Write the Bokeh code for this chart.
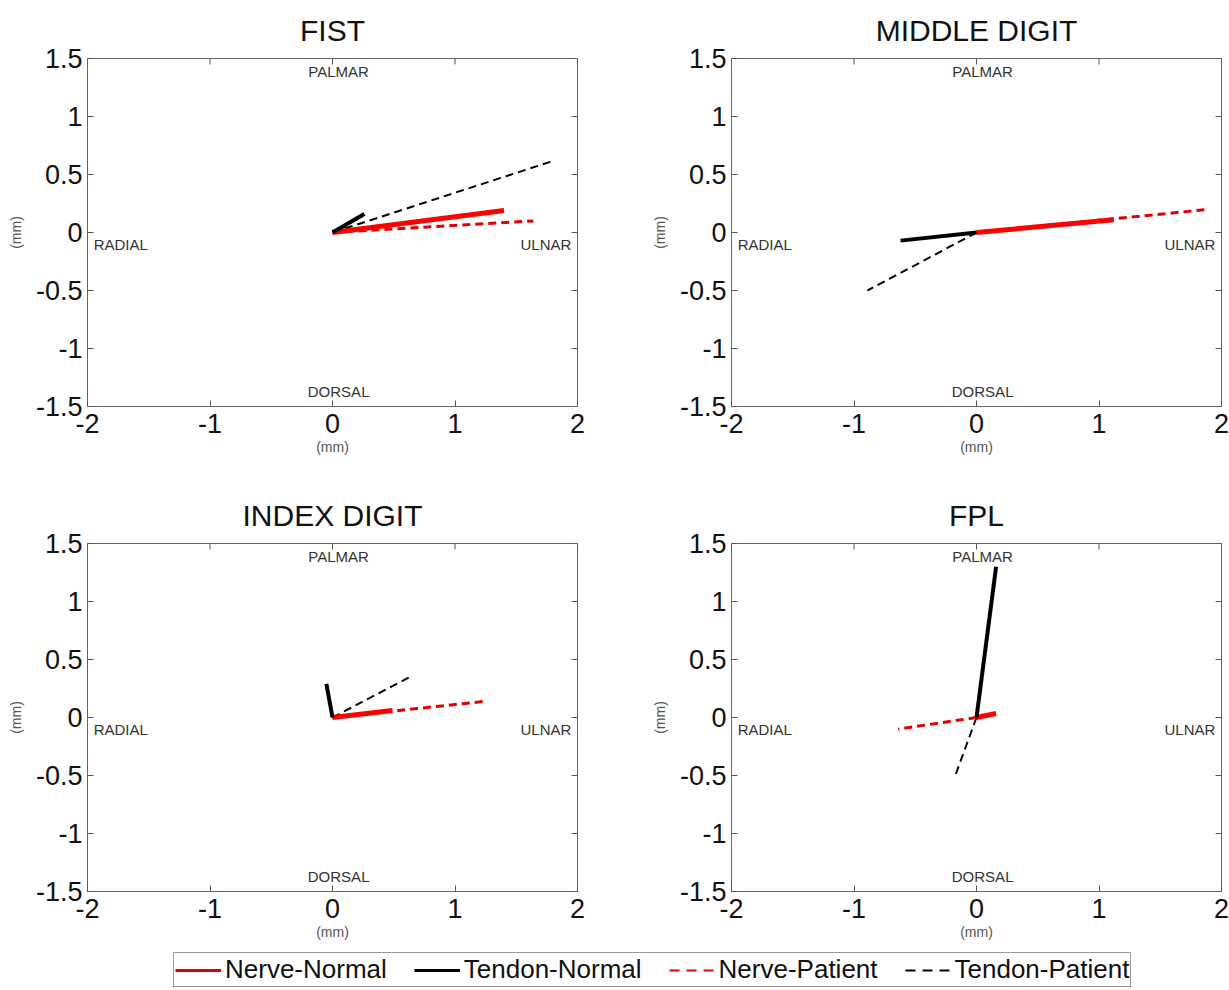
import math
from bokeh.plotting import figure
from bokeh.models import Range1d, FixedTicker, Legend, LegendItem, ColumnDataSource
from bokeh.layouts import column, row
from bokeh.embed import file_html
from bokeh.resources import INLINE
from bokeh.core.properties import value

# ---------------- data ----------------
panel_titles = ["FIST", "MIDDLE DIGIT", "INDEX DIGIT", "FPL"]
origin_x = 0.0
origin_y = 0.0
nerve_normal_x = [1.40, 1.12, 0.49, 0.16]
nerve_normal_y = [0.19, 0.11, 0.06, 0.035]
tendon_normal_x = [0.26, -0.62, -0.05, 0.16]
tendon_normal_y = [0.16, -0.07, 0.29, 1.30]
nerve_patient_x = [1.64, 1.90, 1.25, -0.64]
nerve_patient_y = [0.10, 0.20, 0.14, -0.10]
tendon_patient_x = [1.81, -0.89, 0.65, -0.18]
tendon_patient_y = [0.62, -0.50, 0.36, -0.52]

x_ticks = [-2, -1, 0, 1, 2]
x_tick_labels = ["-2", "-1", "0", "1", "2"]
y_ticks = [-1.5, -1, -0.5, 0, 0.5, 1, 1.5]
y_tick_labels = ["-1.5", "-1", "-0.5", "0", "0.5", "1", "1.5"]

direction_labels = ["PALMAR", "DORSAL", "RADIAL", "ULNAR"]
direction_x = [0.05, 0.05, -1.95, 1.95]
direction_y = [1.385, -1.37, -0.10, -0.10]
direction_align = ["center", "center", "left", "right"]

series_names = ["Nerve-Normal", "Tendon-Normal", "Nerve-Patient", "Tendon-Patient"]

# ---------------- styles ----------------
FONT = "Liberation Sans"
TICK_COLOR = "#555555"
styles = {
    "Tendon-Patient": dict(line_color="#000000", line_width=2, line_dash="8 5"),
    "Nerve-Patient": dict(line_color="#e00000", line_width=3, line_dash="8 5"),
    "Nerve-Normal": dict(line_color="#ff0000", line_width=5),
    "Tendon-Normal": dict(line_color="#000000", line_width=4),
}
legend_styles = {
    "Nerve-Normal": dict(line_color="#e00000", line_width=3),
    "Tendon-Normal": dict(line_color="#000000", line_width=3),
    "Nerve-Patient": dict(line_color="#e00000", line_width=2, line_dash="10 7"),
    "Tendon-Patient": dict(line_color="#000000", line_width=2, line_dash="10 7"),
}

FRAME_W = 490
FRAME_H = 348


def make_panel(i, bl, br, bt, bb):
    p = figure(frame_width=FRAME_W, frame_height=FRAME_H,
               x_range=Range1d(x_ticks[0], x_ticks[-1]),
               y_range=Range1d(y_ticks[0], y_ticks[-1]),
               output_backend="svg", toolbar_location=None,
               min_border_left=bl, min_border_right=br,
               min_border_top=bt, min_border_bottom=bb,
               x_axis_label="(mm)", y_axis_label="(mm)")
    p.title.text = panel_titles[i]
    p.title.align = "center"
    p.title.text_font = FONT
    p.title.text_font_size = "30px"
    p.title.text_font_style = "normal"
    p.title.text_color = "#111111"
    p.title.standoff = 23
    p.grid.visible = False
    p.outline_line_color = "#666666"
    p.outline_line_width = 1
    p.background_fill_color = "white"
    p.border_fill_color = "white"

    for ax, ticks, labels in ((p.xaxis[0], x_ticks, x_tick_labels),
                              (p.yaxis[0], y_ticks, y_tick_labels)):
        ax.ticker = FixedTicker(ticks=ticks)
        ax.major_label_overrides = {t: l for t, l in zip(ticks, labels)}
        ax.major_label_text_font = FONT
        ax.major_label_text_font_size = "27px"
        ax.major_label_text_color = "#111111"
        ax.axis_line_color = None
        ax.major_tick_in = 6
        ax.major_tick_out = 0
        ax.major_tick_line_color = TICK_COLOR
        ax.minor_tick_line_color = None
        ax.axis_label_text_font = FONT
        ax.axis_label_text_font_size = "14px"
        ax.axis_label_text_font_style = "normal"
        ax.axis_label_text_color = "#555555"
    p.xaxis.major_label_standoff = 7
    p.xaxis.axis_label_standoff = 3
    p.yaxis.major_label_standoff = 5
    p.yaxis.axis_label_standoff = 9

    # mirrored inward ticks on the top and right edges of the box
    p.ray(x=x_ticks, y=[y_ticks[-1]] * len(x_ticks), length=6, length_units="screen",
          angle=-math.pi / 2, line_color=TICK_COLOR, line_width=1)
    p.ray(x=[x_ticks[-1]] * len(y_ticks), y=y_ticks, length=6, length_units="screen",
          angle=math.pi, line_color=TICK_COLOR, line_width=1)

    src = ColumnDataSource(dict(x=direction_x, y=direction_y,
                                t=direction_labels, a=direction_align))
    p.text(x="x", y="y", text="t", source=src, text_align="a",
           text_baseline="middle", text_font=value(FONT),
           text_font_size="15px", text_color="#333333")

    series = {
        "Tendon-Patient": (tendon_patient_x, tendon_patient_y),
        "Nerve-Patient": (nerve_patient_x, nerve_patient_y),
        "Nerve-Normal": (nerve_normal_x, nerve_normal_y),
        "Tendon-Normal": (tendon_normal_x, tendon_normal_y),
    }
    for name, (xs, ys) in series.items():
        p.line([origin_x, xs[i]], [origin_y, ys[i]], line_cap="butt", **styles[name])
    return p


p1 = make_panel(0, 87, 40, 58, 64)
p2 = make_panel(1, 114, 8, 58, 64)
p3 = make_panel(2, 87, 40, 73, 49)
p4 = make_panel(3, 114, 8, 73, 49)

# legend strip (sample lines only; no data drawn here)
lf = figure(width=1229, height=48, output_backend="svg", toolbar_location=None,
            min_border=0, x_range=Range1d(0, 1), y_range=Range1d(0, 1),
            x_axis_type=None, y_axis_type=None)
lf.grid.visible = False
lf.outline_line_color = None
nan = float("nan")
items = []
for name in series_names:
    r = lf.line(x=[nan], y=[nan], **legend_styles[name])
    items.append(LegendItem(label=name, renderers=[r]))
legend = Legend(items=items, orientation="horizontal", location=(173, 3),
                label_text_font=FONT, label_text_font_size="26px",
                label_text_color="#111111",
                glyph_width=46, glyph_height=20, label_standoff=4,
                spacing=27, padding=1, margin=0,
                border_line_color="#333333", border_line_width=1,
                background_fill_color="white", background_fill_alpha=1)
lf.add_layout(legend, "center")

layout = column(row(p1, p2), row(p3, p4), lf)

open("out.html", "w").write(file_html(layout, INLINE))
